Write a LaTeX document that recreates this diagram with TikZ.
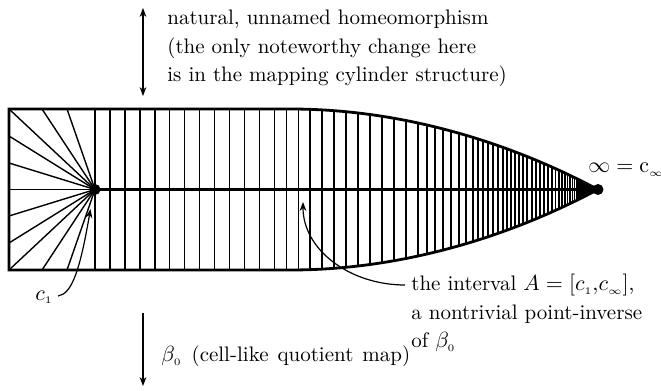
\documentclass[tikz,border=0pt]{standalone}
\usetikzlibrary{arrows.meta}
\newcommand\sbs[1]{_{\scriptscriptstyle #1}}
\begin{document}
\begin{tikzpicture}[x=0.5pt,y=-0.5pt,
  outline/.style={line width=1.4pt,line join=miter},
  vl/.style={line width=0.75pt},
  fan/.style={line width=0.7pt},
  axisline/.style={line width=1.2pt},
  dot/.style={circle,fill=black,inner sep=0pt,minimum size=5.5pt},
  lbl/.style={inner sep=0pt,font=\fontsize{10.5}{14.25}\selectfont,align=left},
  tip/.style={-{Stealth[length=4.5pt,width=3.4pt,inset=1.5pt]}},
  arr/.style={line width=0.6pt,tip},
  darr/.style={line width=0.6pt,{Stealth[length=4.5pt,width=3.4pt,inset=1.5pt]}-{Stealth[length=4.5pt,width=3.4pt,inset=1.5pt]}}
]
\useasboundingbox (0,0) rectangle (661,391);
\def\cy{189.5}
\newcommand\vln[1]{%
  \pgfmathsetmacro\hh{80.5*(1-(max(#1-290,0)/308)^2)}%
  \draw[vl] (#1,\cy-\hh) -- (#1,\cy+\hh);}
% vertical lines
\foreach \k in {0,...,12} {\pgfmathsetmacro\xx{95+14.95*\k}\vln{\xx}}
\foreach \k in {1,...,12} {\pgfmathsetmacro\xx{274.4+11.95*\k}\vln{\xx}}
\foreach \xx in {427,435,443,451,459,466,473,478,483,488,493,498,503,507,511,515,519,523,527,532,536,540,544,548} {\vln{\xx}}
\foreach \k in {1,...,40} {\pgfmathsetmacro\xx{598-50*0.92^\k}\vln{\xx}}
% outline
\draw[outline] (598,\cy) parabola[bend at end] (290,109) -- (9,109) -- (9,270) -- (290,270) parabola[bend at start] (598,\cy);
% points
\node[dot] (c1) at (95,\cy) {};
\node[dot] (cinf) at (598,\cy) {};
% fan
\foreach \a/\b in {9/109,42/109,67/109,9/136,9/163,9/189.5,9/216,9/243,9/270,42/270,67/270}
  {\draw[fan] (c1.center) -- (\a,\b);}
\draw[axisline] (c1.center) -- (cinf.center);
% labels
\node[lbl,anchor=north west] (toptxt) at (167,10) {natural, unnamed homeomorphism\\(the only noteworthy change here\\is in the mapping cylinder structure)};
\node[lbl,anchor=north west] (atxt) at (411,274) {the interval $A=[c\sbs{1}{,}c\sbs{\infty}]$,\\a nontrivial point-inverse\\of $\beta\sbs{0}$};
\node[lbl,anchor=base west] (btxt) at (161,362) {$\beta\sbs{0}$\hspace{5pt}(cell-like\hspace{4.5pt}quotient\hspace{4.5pt}map)};
\node[lbl,anchor=base west] (c1txt) at (35,300) {$c\sbs{1}$};
\node[lbl,anchor=base west] (inftxt) at (588,173) {$\infty=\mathrm{c}\sbs{\infty}$};
% arrows
\coordinate (dtop) at (143,8);
\coordinate (dbot) at (143,96);
\draw[darr] (dtop) -- (dbot);
\coordinate (btop) at (143,313);
\coordinate (bbot) at (143,386);
\draw[arr] (btop) -- (bbot);
\coordinate (c1tail) at (58,296);
\coordinate (c1tip) at (90.5,209);
\draw[arr] (c1tail) .. controls (72,294) and (80,270) .. (c1tip);
\coordinate (Atail) at (405,285);
\coordinate (Atip) at (303,202);
\draw[arr] (Atail) .. controls (350,285) and (303,250) .. (Atip);
\end{tikzpicture}
\end{document}
